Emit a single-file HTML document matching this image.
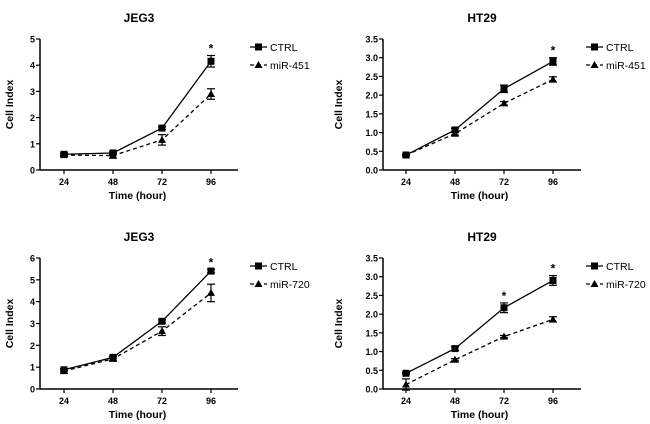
<!DOCTYPE html>
<html><head><meta charset="utf-8"><style>
body{margin:0;background:#fff}
svg{font-family:"Liberation Sans",Arial,sans-serif;display:block}
</style></head><body>
<svg id="c" width="650" height="424" viewBox="0 0 650 424"></svg>
<script>
const hours=[24,48,72,96];
const p1Ctrl=[0.6,0.65,1.6,4.15], p1CtrlErr=[0.05,0.05,0.05,0.22];
const p1Mir=[0.57,0.55,1.15,2.9], p1MirErr=[0.05,0.1,0.2,0.2];
const p2Ctrl=[0.4,1.07,2.17,2.9], p2CtrlErr=[0.02,0.05,0.1,0.1];
const p2Mir=[0.4,0.97,1.78,2.42], p2MirErr=[0.02,0.04,0.05,0.07];
const p3Ctrl=[0.88,1.45,3.1,5.4], p3CtrlErr=[0.05,0.05,0.07,0.08];
const p3Mir=[0.82,1.38,2.65,4.4], p3MirErr=[0.1,0.1,0.2,0.4];
const p4Ctrl=[0.42,1.08,2.17,2.9], p4CtrlErr=[0.02,0.05,0.13,0.13];
const p4Mir=[0.12,0.78,1.4,1.86], p4MirErr=[0.15,0.03,0.03,0.07];
const ticksInt5=[0,1,2,3,4,5], ticksInt6=[0,1,2,3,4,5,6];
const ticksHalf=["0.0","0.5","1.0","1.5","2.0","2.5","3.0","3.5"];
const svg=document.getElementById('c');
const NS='http://www.w3.org/2000/svg';
function mk(tag,attrs,parent){const e=document.createElementNS(NS,tag);for(const k in attrs)e.setAttribute(k,attrs[k]);(parent||svg).appendChild(e);return e;}
function txt(s,attrs,parent){const e=mk('text',attrs,parent);e.textContent=s;return e;}
function panel(cfg){
  const g=mk('g',{});
  
  
  const ax=cfg.ax, top=cfg.top, bot=cfg.bot, x0=cfg.x0, dx=49, ymax=cfg.ymax;
  const X=i=>x0+i*dx;
  const Y=v=>bot-(v/ymax)*(bot-top);
  const t=txt(cfg.title,{x:(ax+ax+198)/2,y:top-17,'text-anchor':'middle','font-size':12,'font-weight':'bold'},g);
  
  mk('line',{x1:ax,y1:top,x2:ax,y2:bot,stroke:'#000','stroke-width':1.5},g);
  mk('line',{x1:ax,y1:bot,x2:ax+198,y2:bot,stroke:'#000','stroke-width':1.5},g);
  cfg.ticks.forEach(tk=>{const v=parseFloat(tk);const y=Y(v);
    mk('line',{x1:ax-4,y1:y,x2:ax,y2:y,stroke:'#000','stroke-width':1.2},g);
    const l=txt(String(tk),{x:ax-5,y:y+3.5,'text-anchor':'end','font-size':9,'font-weight':'bold'},g);
    });
  hours.forEach((h,i)=>{mk('line',{x1:X(i),y1:bot,x2:X(i),y2:bot+4,stroke:'#000','stroke-width':1.2},g);
    const l=txt(String(h),{x:X(i),y:bot+15,'text-anchor':'middle','font-size':9,'font-weight':'bold'},g);
    });
  const xl=txt('Time (hour)',{x:X(1.5),y:bot+29,'text-anchor':'middle','font-size':10.5,'font-weight':'bold'},g);
  
  const yy=(top+bot)/2;
  const yl=txt('Cell Index',{x:cfg.ylx,y:yy,'text-anchor':'middle','font-size':10.5,'font-weight':'bold',transform:`rotate(-90 ${cfg.ylx} ${yy})`},g);
  
  function series(vals,errs,dash,marker,name){
    const sg=mk('g',{},g);
    
    mk('polyline',{points:vals.map((v,i)=>X(i)+','+Y(v)).join(' '),fill:'none',stroke:'#000','stroke-width':1.3,'stroke-dasharray':dash},sg);
    vals.forEach((v,i)=>{const x=X(i);
      const a=Y(v+errs[i]),b=Y(v-errs[i]);
      mk('line',{x1:x,y1:a,x2:x,y2:b,stroke:'#000','stroke-width':1.2},sg);
      mk('line',{x1:x-4,y1:a,x2:x+4,y2:a,stroke:'#000','stroke-width':1.2},sg);
      mk('line',{x1:x-4,y1:b,x2:x+4,y2:b,stroke:'#000','stroke-width':1.2},sg);
      const y=Y(v);
      if(marker==='sq')mk('rect',{x:x-3.5,y:y-3.5,width:7,height:7,fill:'#000'},sg);
      else mk('polygon',{points:`${x},${y-4} ${x-4},${y+3} ${x+4},${y+3}`,fill:'#000'},sg);});
  }
  series(cfg.ctrl,cfg.ctrlErr,'none','sq','series-ctrl');
  series(cfg.mir,cfg.mirErr,'4,3','tri','series-mir');
  cfg.stars.forEach(i=>{const top2=Math.max(cfg.ctrl[i]+cfg.ctrlErr[i],cfg.mir[i]+cfg.mirErr[i]);
    const s=txt('*',{x:X(i),y:Y(top2)-3,'text-anchor':'middle','font-size':12,'font-weight':'bold'},g);
    });
  const lx=cfg.lx, ly=top+8;
  const lg=mk('g',{},g);
  mk('line',{x1:lx,y1:ly,x2:lx+17,y2:ly,stroke:'#000','stroke-width':1.3},lg);
  mk('rect',{x:lx+5,y:ly-3.5,width:7,height:7,fill:'#000'},lg);
  txt('CTRL',{x:lx+20,y:ly+4,'font-size':10.5},lg);
  mk('line',{x1:lx,y1:ly+18,x2:lx+17,y2:ly+18,stroke:'#000','stroke-width':1.3,'stroke-dasharray':'4,3'},lg);
  mk('polygon',{points:`${lx+8.5},${ly+14} ${lx+4.5},${ly+21} ${lx+12.5},${ly+21}`,fill:'#000'},lg);
  txt(cfg.mirName,{x:lx+20,y:ly+22,'font-size':10.5},lg);
}
panel({name:'panel-jeg3-mir451',title:'JEG3',ax:40,top:39,bot:170,x0:64,ymax:5,ticks:ticksInt5,ylx:13,lx:250,ctrl:p1Ctrl,ctrlErr:p1CtrlErr,mir:p1Mir,mirErr:p1MirErr,stars:[3],mirName:'miR-451'});
panel({name:'panel-ht29-mir451',title:'HT29',ax:383,top:39,bot:170,x0:406,ymax:3.5,ticks:ticksHalf,ylx:342,lx:586,ctrl:p2Ctrl,ctrlErr:p2CtrlErr,mir:p2Mir,mirErr:p2MirErr,stars:[3],mirName:'miR-451'});
panel({name:'panel-jeg3-mir720',title:'JEG3',ax:40,top:258,bot:389,x0:64,ymax:6,ticks:ticksInt6,ylx:13,lx:250,ctrl:p3Ctrl,ctrlErr:p3CtrlErr,mir:p3Mir,mirErr:p3MirErr,stars:[3],mirName:'miR-720'});
panel({name:'panel-ht29-mir720',title:'HT29',ax:383,top:258,bot:389,x0:406,ymax:3.5,ticks:ticksHalf,ylx:342,lx:586,ctrl:p4Ctrl,ctrlErr:p4CtrlErr,mir:p4Mir,mirErr:p4MirErr,stars:[2,3],mirName:'miR-720'});
</script>
</body></html>
